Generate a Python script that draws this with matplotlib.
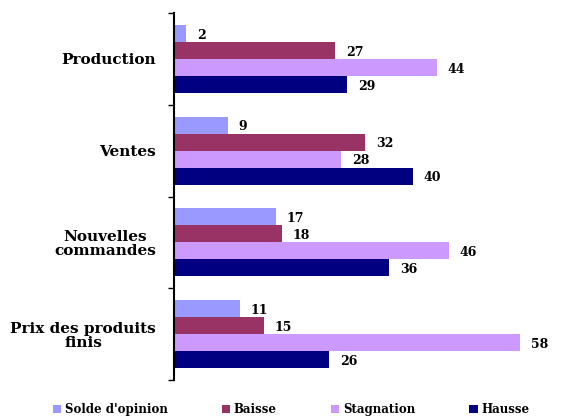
import numpy as np
import matplotlib.pyplot as plt

categories = ['Production', 'Ventes', 'Nouvelles\ncommandes', 'Prix des produits\nfinis']
series = ["Solde d'opinion", 'Baisse', 'Stagnation', 'Hausse']
solde = [2, 9, 17, 11]
baisse = [27, 32, 18, 15]
stagnation = [44, 28, 46, 58]
hausse = [29, 40, 36, 26]
colors = ['#9999FF', '#993366', '#CC99FF', '#000080']

plt.rcParams['font.family'] = ['DejaVu Serif']
plt.rcParams['font.weight'] = 'bold'

fig = plt.figure(figsize=(5.64, 4.16), dpi=100)
ax = fig.add_axes([174 / 564, 1 - 380 / 416, 390 / 564, 367 / 416])

h = 0.185
y = np.arange(len(categories))
for i, (vals, name, c) in enumerate(zip([solde, baisse, stagnation, hausse], series, colors)):
    pos = y - 1.5 * h + i * h
    ax.barh(pos, vals, height=h, color=c, label=name)
    for p, v in zip(pos, vals):
        ax.text(v + 1.8, p + 0.02, str(v), va='center', ha='left', fontsize=9, fontweight='bold')

ax.set_xlim(0, 65.3)
ax.set_ylim(len(categories) - 0.5, -0.5)
ax.set_yticks(y)
ax.set_yticklabels(categories, fontsize=11, fontweight='bold', ha='right',
                   multialignment='center', linespacing=1.0)
ax.tick_params(axis='y', which='major', length=0, pad=13)
ax.set_yticks(np.arange(-0.5, len(categories)), minor=True)
ax.tick_params(axis='y', which='minor', length=4, width=1)
ax.set_xticks([])
for s in ['top', 'right', 'bottom']:
    ax.spines[s].set_visible(False)
ax.spines['left'].set_linewidth(1.5)

fig.legend(loc='lower left', bbox_to_anchor=(0.075, -0.025), ncol=4, frameon=False,
           handlelength=0.7, handleheight=0.7, handletextpad=0.3,
           columnspacing=4.6, prop={'weight': 'bold', 'size': 8.5})

fig.savefig('out.png', dpi=100)
